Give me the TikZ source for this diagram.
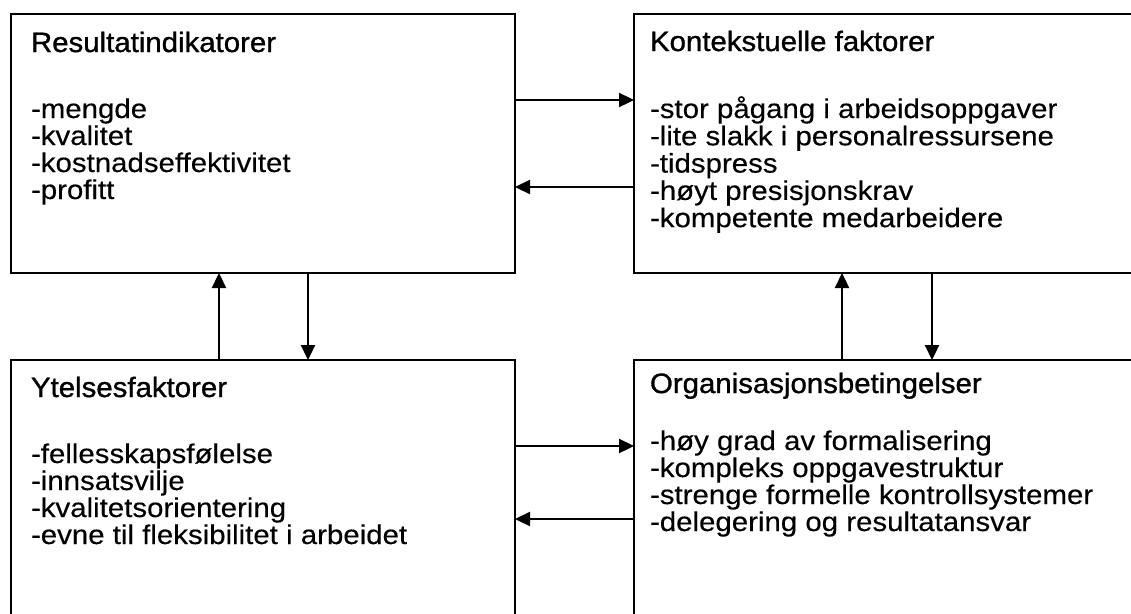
\documentclass[tikz,border=0pt]{standalone}
\usepackage{fontspec}
\setmainfont{Liberation Sans}
\newfontfamily\bodyfont[FakeBold=0.3,FakeStretch=1.09]{Liberation Sans}
\newfontfamily\headfont[FakeBold=1.1,FakeStretch=1.05]{Liberation Sans}
\usetikzlibrary{arrows.meta}
\tikzset{
  box/.style={draw, line width=2.3pt, inner sep=0pt, outer sep=0pt, anchor=north west},
  txt/.style={anchor=base west, inner sep=0pt, outer sep=0pt, font=\fontsize{27}{27.3}\selectfont\bodyfont},
  head/.style={txt, font=\fontsize{28}{27.3}\selectfont\headfont},
  arr/.style={line width=2.3pt, -{Triangle[length=15pt,width=14pt]}}
}
\begin{document}
\begin{tikzpicture}[x=1pt,y=-1pt]
\useasboundingbox (0,0) rectangle (1131,613);
\clip (0,0) rectangle (1131,613);
% boxes
\node[box, minimum width=504pt, minimum height=259pt] (TL) at (11,14) {};
\node[box, minimum width=515pt, minimum height=259pt] (TR) at (634,14) {};
\node[box, minimum width=504pt, minimum height=270pt] (BL) at (11,360) {};
\node[box, minimum width=515pt, minimum height=270pt] (BR) at (634,360) {};
% texts top-left
\node[head] (tl0) at (31,52) {Resultatindikatorer};
\node[txt] (tl1) at (31,118) {-mengde};
\node[txt] (tl2) at (31,145) {-kvalitet};
\node[txt] (tl3) at (31,172) {-kostnadseffektivitet};
\node[txt] (tl4) at (31,199) {-profitt};
% texts top-right
\node[head] (tr0) at (650,51) {Kontekstuelle faktorer};
\node[txt] (tr1) at (650,118) {-stor pågang i arbeidsoppgaver};
\node[txt] (tr2) at (650,145.3) {-lite slakk i personalressursene};
\node[txt] (tr3) at (650,172.6) {-tidspress};
\node[txt] (tr4) at (650,199.9) {-høyt presisjonskrav};
\node[txt] (tr5) at (650,227.2) {-kompetente medarbeidere};
% texts bottom-left
\node[head] (bl0) at (31,397) {Ytelsesfaktorer};
\node[txt] (bl1) at (31,463) {-fellesskapsfølelse};
\node[txt] (bl2) at (31,490) {-innsatsvilje};
\node[txt] (bl3) at (31,517) {-kvalitetsorientering};
\node[txt] (bl4) at (31,544) {-evne til fleksibilitet i arbeidet};
% texts bottom-right
\node[head] (br0) at (650,393) {Organisasjonsbetingelser};
\node[txt] (br1) at (650,450) {-høy grad av formalisering};
\node[txt] (br2) at (650,477) {-kompleks oppgavestruktur};
\node[txt] (br3) at (650,504) {-strenge formelle kontrollsystemer};
\node[txt] (br4) at (650,531) {-delegering og resultatansvar};
% connector levels
\coordinate (h1) at (0,100);
\coordinate (h2) at (0,187);
\coordinate (h3) at (0,446);
\coordinate (h4) at (0,519);
\coordinate (v1) at (219,0);
\coordinate (v2) at (308,0);
\coordinate (v3) at (842,0);
\coordinate (v4) at (932,0);
% connectors
\draw[arr] (TL.east |- h1) -- (TR.west |- h1);
\draw[arr] (TR.west |- h2) -- (TL.east |- h2);
\draw[arr] (BL.east |- h3) -- (BR.west |- h3);
\draw[arr] (BR.west |- h4) -- (BL.east |- h4);
\draw[arr] (v1 |- BL.north) -- (v1 |- TL.south);
\draw[arr] (v2 |- TL.south) -- (v2 |- BL.north);
\draw[arr] (v3 |- BR.north) -- (v3 |- TR.south);
\draw[arr] (v4 |- TR.south) -- (v4 |- BR.north);
\end{tikzpicture}
\end{document}
